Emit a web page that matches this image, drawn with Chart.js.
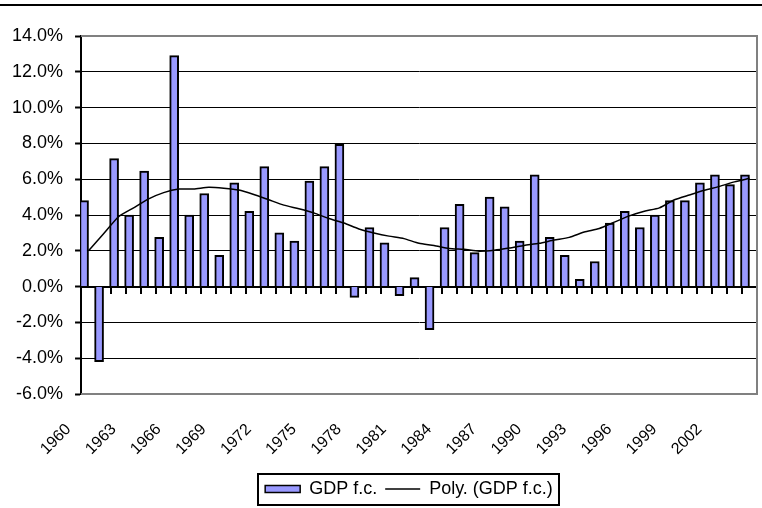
<!DOCTYPE html>
<html>
<head>
<meta charset="utf-8">
<script src="https://cdn.jsdelivr.net/npm/chart.js@4.4.1/dist/chart.umd.min.js"></script>
<style>
  html, body { margin: 0; padding: 0; background: #fff; }
</style>
</head>
<body>
<canvas id="myChart" width="762" height="508"></canvas>
<script>
// years on the category axis
const years = [
  '1960', '1961', '1962', '1963', '1964', '1965', '1966', '1967', '1968', '1969',
  '1970', '1971', '1972', '1973', '1974', '1975', '1976', '1977', '1978', '1979',
  '1980', '1981', '1982', '1983', '1984', '1985', '1986', '1987', '1988', '1989',
  '1990', '1991', '1992', '1993', '1994', '1995', '1996', '1997', '1998', '1999',
  '2000', '2001', '2002', '2003', '2004'
];

// GDP f.c. growth, %
const gdpGrowth = [
  4.8, -4.2, 7.15, 4.0, 6.45, 2.75, 12.9, 4.0, 5.2, 1.75,
  5.8, 4.2, 6.7, 3.0, 2.55, 5.9, 6.7, 7.95, -0.6, 3.3,
  2.45, -0.5, 0.5, -2.4, 3.3, 4.6, 1.9, 5.0, 4.45, 2.55,
  6.25, 2.75, 1.75, 0.4, 1.4, 3.55, 4.2, 3.3, 4.0, 4.8,
  4.8, 5.8, 6.25, 5.7, 6.25
];

// Poly. trend line, %
const polyTrend = [
  2.0, 2.95, 3.9, 4.4, 4.9, 5.25, 5.45, 5.45, 5.55, 5.5,
  5.4, 5.15, 4.85, 4.55, 4.35, 4.12, 3.8, 3.55, 3.22, 3.0,
  2.82, 2.68, 2.42, 2.3, 2.13, 2.08, 1.98, 2.03, 2.15, 2.3,
  2.42, 2.6, 2.75, 3.05, 3.25, 3.6, 3.95, 4.21, 4.4, 4.85,
  5.12, 5.38, 5.6, 5.85, 6.05
];

const yMin = -6;
const yMax = 14;
const yStep = 2;
const labelEvery = 3;

const fontFamily = "'Liberation Sans', Arial, sans-serif";

// grey plot border, black frame line on top, box round the legend
const framePlugin = {
  id: 'frame',
  afterLayout(chart) {
    // legend sits a little left of the plot centre
    chart.legend.left -= 10;
    chart.legend.right -= 10;
  },
  beforeDraw(chart) {
    const ctx = chart.ctx;
    ctx.save();
    ctx.fillStyle = '#fff';
    ctx.fillRect(0, 0, chart.width, chart.height);
    ctx.restore();
  },
  beforeDatasetsDraw(chart) {
    const a = chart.chartArea;
    const ctx = chart.ctx;
    ctx.save();
    ctx.strokeStyle = '#808080';
    ctx.lineWidth = 2;
    ctx.beginPath();
    ctx.moveTo(a.left, a.top);
    ctx.lineTo(a.right, a.top);
    ctx.lineTo(a.right, a.bottom);
    ctx.lineTo(a.left, a.bottom);
    ctx.stroke();
    ctx.restore();
  },
  afterDraw(chart) {
    const ctx = chart.ctx;
    ctx.save();
    ctx.strokeStyle = '#000';
    ctx.lineWidth = 2;
    ctx.beginPath();
    ctx.moveTo(0, 5);
    ctx.lineTo(chart.width, 5);
    ctx.stroke();

    const boxes = chart.legend.legendHitBoxes;
    if (boxes && boxes.length) {
      let l = Infinity, r = -Infinity, t = Infinity, b = -Infinity;
      boxes.forEach(h => {
        l = Math.min(l, h.left);
        r = Math.max(r, h.left + h.width);
        t = Math.min(t, h.top);
        b = Math.max(b, h.top + h.height);
      });
      ctx.lineWidth = 2;
      ctx.strokeRect(Math.round(l - 7), Math.round(t - 6), Math.round(r - l + 13), Math.round(b - t + 13));
    }
    ctx.restore();
  }
};

const myChart = document.getElementById('myChart');

let barChart = new Chart(myChart, {
  type: 'bar',
  data: {
    labels: years,
    datasets: [{
      type: 'bar',
      label: 'GDP f.c.',
      data: gdpGrowth,
      backgroundColor: '#9999FF',
      borderColor: '#000',
      borderWidth: 2,
      barThickness: 9,
      xAxisID: 'x',
      order: 1
    }, {
      type: 'line',
      label: 'Poly. (GDP f.c.)',
      data: polyTrend,
      borderColor: '#000',
      borderWidth: 1.5,
      pointRadius: 0,
      pointBorderWidth: 1.5,
      tension: 0.2,
      fill: false,
      xAxisID: 'x2',
      order: 0
    }]
  },
  options: {
    responsive: false,
    animation: false,
    devicePixelRatio: 1,
    layout: {
      padding: { left: 0, right: 5, top: 36, bottom: 0 }
    },
    scales: {
      y: {
        min: yMin,
        max: yMax,
        ticks: {
          stepSize: yStep,
          padding: 12,
          color: '#000',
          font: { family: fontFamily, size: 18 },
          callback: v => v.toFixed(1) + '%'
        },
        grid: {
          color: c => (c.tick.value === yMax || c.tick.value === yMin) ? 'rgba(0,0,0,0)' : '#000',
          tickColor: '#000',
          lineWidth: 1,
          tickWidth: 2,
          tickLength: 6
        },
        border: { display: true, color: '#000', width: 2 }
      },
      x: {
        type: 'category',
        position: { y: 0 },
        offset: true,
        ticks: { display: false, autoSkip: false },
        grid: {
          display: true,
          drawOnChartArea: false,
          drawTicks: true,
          tickLength: 6,
          color: '#000',
          lineWidth: 2,
          offset: true
        },
        border: { display: true, color: '#000', width: 2 }
      },
      x2: {
        type: 'category',
        labels: years,
        position: 'bottom',
        offset: true,
        grid: { display: false },
        border: { display: false },
        afterFit: s => {
          s.height = 78;
          s.paddingLeft = 0;
          s.paddingRight = 0;
        },
        ticks: {
          autoSkip: false,
          minRotation: 45,
          maxRotation: 45,
          labelOffset: -20,
          padding: 18,
          color: '#000',
          font: { family: fontFamily, size: 16 },
          callback: (v, i) => (i % labelEvery === 0 ? years[i] : '')
        }
      }
    },
    plugins: {
      tooltip: { enabled: false },
      legend: {
        position: 'bottom',
        fullSize: false,
        labels: {
          color: '#000',
          font: { family: fontFamily, size: 18 },
          usePointStyle: true,
          pointStyleWidth: 35,
          boxHeight: 7,
          padding: 8,
          sort: (a, b) => a.datasetIndex - b.datasetIndex,
          generateLabels: chart => {
            const items = Chart.defaults.plugins.legend.labels.generateLabels(chart);
            items.forEach(it => {
              if (it.datasetIndex === 0) {
                it.pointStyle = 'rect';
                it.fillStyle = '#9999FF';
                it.strokeStyle = '#000';
                it.lineWidth = 1.5;
              } else {
                it.pointStyle = 'line';
                it.strokeStyle = '#000';
                it.lineWidth = 1.5;
              }
            });
            return items;
          }
        }
      }
    }
  },
  plugins: [framePlugin]
});
</script>
</body>
</html>
